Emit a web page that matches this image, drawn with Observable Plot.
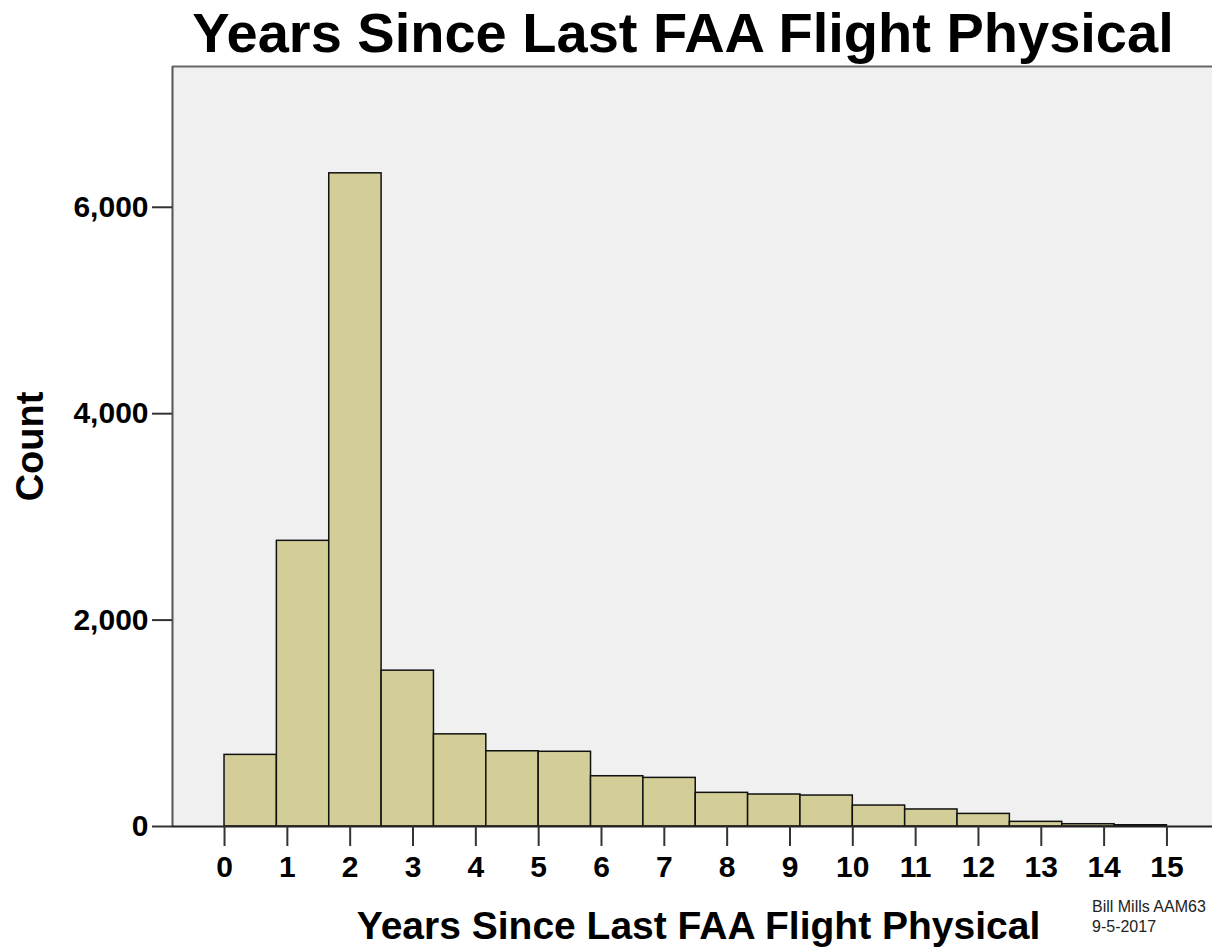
<!DOCTYPE html>
<html>
<head>
<meta charset="utf-8">
<script src="https://cdn.jsdelivr.net/npm/d3@7"></script>
<script src="https://cdn.jsdelivr.net/npm/@observablehq/plot@0.6"></script>
<style>
  html, body { margin: 0; padding: 0; background: #fff; overflow: hidden; }
  #wrap { position: relative; width: 1212px; height: 948px; font-family: "Liberation Sans", Arial, sans-serif; }
  #title { position: relative; height: 64px; }
  #title span { position: absolute; left: 683px; top: 5px; transform: translateX(-50%); white-space: nowrap;
    font-size: 56px; font-weight: bold; line-height: 56px; color: #000; }
  #caption { position: absolute; left: 1092px; top: 897px; font-size: 16px; line-height: 20px; color: #222; white-space: nowrap; }
  svg { display: block; }
</style>
</head>
<body>
<div id="wrap">
  <div id="title"><span>Years Since Last FAA Flight Physical</span></div>
  <div id="chart"></div>
  <div id="caption">Bill Mills AAM63<br>9-5-2017</div>
</div>
<script>
// Data (18 bins spanning 0–15 years)
const binStart = 0;
const binEnd = 15;
const counts = [694, 2768, 6329, 1510, 893, 729, 724, 487, 471, 326, 310, 300, 203, 165, 122, 45, 22, 12];
const xTicks = [0,1,2,3,4,5,6,7,8,9,10,11,12,13,14,15];
const yTicks = [0, 2000, 4000, 6000];
const xDomain = [-0.828, 15.725];
const yDomain = [0, 7364];
const titleText = "Years Since Last FAA Flight Physical";
const yLabel = "Count";

const binW = (binEnd - binStart) / counts.length;
const bins = counts.map((c, i) => ({x1: binStart + i * binW, x2: binStart + (i + 1) * binW, count: c}));

const chart = Plot.plot({
  width: 1212,
  height: 884,
  marginTop: 2,
  marginBottom: 122,
  marginLeft: 172,
  marginRight: 0,
  style: {fontFamily: "Liberation Sans, Arial, sans-serif", background: "white", color: "#000"},
  x: {type: "linear", domain: xDomain, range: [172, 1212], axis: null},
  y: {domain: yDomain, axis: null},
  marks: [
    Plot.frame({fill: "#f0f0f0", stroke: "none"}),
    Plot.ruleX([xDomain[0]], {stroke: "#555", strokeWidth: 2}),
    Plot.ruleY([yDomain[1]], {stroke: "#666", strokeWidth: 2}),
    Plot.rectY(bins, {x1: "x1", x2: "x2", y: "count", fill: "#d3ce97", stroke: "#111", strokeWidth: 1.5}),
    Plot.ruleY([0], {stroke: "#222", strokeWidth: 2}),
    Plot.axisX({ticks: xTicks, tickSize: 20, tickPadding: 9, fontSize: 30, fontWeight: "bold",
      stroke: "#333", strokeWidth: 2, label: null, tickFormat: d => String(d)}),
    Plot.axisY({ticks: yTicks, tickSize: 20, tickPadding: 4, fontSize: 30, fontWeight: "bold",
      stroke: "#333", strokeWidth: 2, label: null, tickFormat: d3.format(",")}),
    Plot.text([titleText], {frameAnchor: "bottom", dx: 6, dy: 112, fontSize: 39, fontWeight: "bold", fill: "#000"}),
    Plot.text([yLabel], {frameAnchor: "left", textAnchor: "middle", dx: -142, rotate: -90, fontSize: 38, fontWeight: "bold", fill: "#000"})
  ]
});
document.getElementById("chart").appendChild(chart);
</script>
</body>
</html>
